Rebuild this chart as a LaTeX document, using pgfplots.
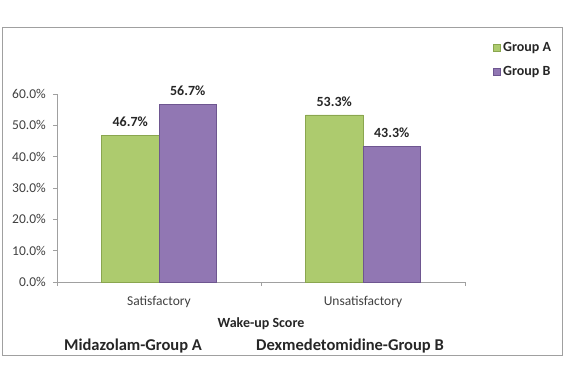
\documentclass[border=0pt]{standalone}
\usepackage{pgfplots}
\pgfplotsset{compat=1.18}
\usepackage{fontspec}
\setmainfont{Carlito}
\definecolor{gfill}{HTML}{ADCB6E}
\definecolor{gedge}{HTML}{8AA64F}
\definecolor{pfill}{HTML}{9177B3}
\definecolor{pedge}{HTML}{6E5690}
\definecolor{axgray}{HTML}{A0A0A0}
\definecolor{txt}{HTML}{404040}
\begin{document}
\begin{tikzpicture}
\useasboundingbox (0,0) rectangle (568pt,386pt);
\draw[axgray, line width=1pt] (2.5pt,31pt) rectangle (562.7pt,358.7pt);
\begin{axis}[
  at={(57pt,104pt)}, anchor=south west,
  scale only axis, width=408pt, height=188pt,
  xmin=-0.5, xmax=1.5, ymin=0, ymax=60,
  axis lines*=left,
  axis line style={axgray, line width=0.8pt, -},
  ybar=0pt, bar width=57.5pt,
  xtick={0,1}, xticklabels={Satisfactory,Unsatisfactory},
  major x tick style={draw=none},
  minor xtick={-0.5,0.5,1.5},
  minor x tick style={axgray, line width=0.8pt},
  ytick={0,10,...,60},
  y tick style={axgray, line width=0.8pt},
  tick align=outside,
  major tick length=4pt, minor tick length=4pt,
  /pgf/number format/assume math mode=true,
  yticklabel={\pgfmathprintnumber[fixed,fixed zerofill,precision=1]{\tick}\%},
  yticklabel style={font=\fontsize{13.5}{15}\selectfont, text=txt, inner sep=0pt, xshift=-7pt},
  xticklabel style={font=\fontsize{13.5}{15}\selectfont, text=txt, inner sep=0pt, yshift=-10pt},
  xlabel={Wake-up Score},
  xlabel style={at={(axis description cs:0.5,0)}, anchor=center, yshift=-41.5pt, font=\bfseries\fontsize{14}{16}\selectfont, text=black!85},
  nodes near coords={\pgfmathprintnumber[fixed,fixed zerofill,precision=1]{\pgfplotspointmeta}\%},
  every node near coord/.append style={font=\bfseries\fontsize{14}{16}\selectfont, text=black!85, anchor=center, yshift=13.5pt},
  legend style={draw=none, fill=none, at={(1.061,1.29)}, anchor=north west,
    nodes={inner sep=0pt, text height=9.5pt, text depth=2pt, font=\bfseries\fontsize{14}{16}\selectfont, text=black!85},
    row sep=13.2pt},
  legend cell align=left,
  legend image code/.code={\fill[#1] (0pt,-3.5pt) rectangle (7pt,3.5pt);},
  clip=false,
]
\addplot[fill=gfill, draw=gedge, line width=0.8pt] coordinates {(0,46.7) (1,53.3)};
\addplot[fill=pfill, draw=pedge, line width=0.8pt] coordinates {(0,56.7) (1,43.3)};
\legend{\,Group A,\,Group B}
\end{axis}
\node[font=\bfseries\fontsize{16.5}{18}\selectfont, text=black!85] at (133pt,40pt) {Midazolam-Group A};
\node[font=\bfseries\fontsize{16.5}{18}\selectfont, text=black!85] at (350pt,40pt) {Dexmedetomidine-Group B};
\end{tikzpicture}
\end{document}
